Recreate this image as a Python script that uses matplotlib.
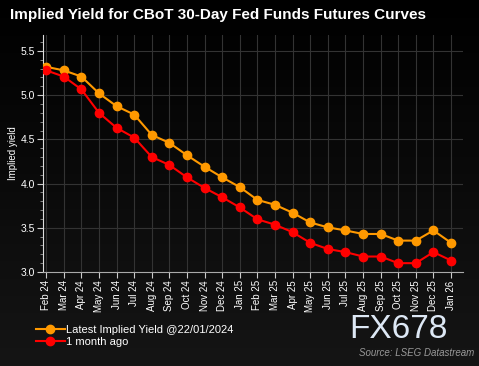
import matplotlib
matplotlib.use("Agg")
import matplotlib.pyplot as plt
import numpy as np

plt.rcParams["font.family"] = ["Liberation Sans", "DejaVu Sans"]

months = ["Feb 24", "Mar 24", "Apr 24", "May 24", "Jun 24", "Jul 24", "Aug 24", "Sep 24",
          "Oct 24", "Nov 24", "Dec 24", "Jan 25", "Feb 25", "Mar 25", "Apr 25", "May 25",
          "Jun 25", "Jul 25", "Aug 25", "Sep 25", "Oct 25", "Nov 25", "Dec 25", "Jan 26"]
latest = [5.32, 5.28, 5.21, 5.02, 4.875, 4.78, 4.55, 4.46, 4.32, 4.19, 4.07, 3.96,
          3.815, 3.76, 3.67, 3.56, 3.505, 3.47, 3.43, 3.43, 3.355, 3.355, 3.47, 3.33]
month_ago = [5.28, 5.21, 5.065, 4.80, 4.63, 4.52, 4.30, 4.21, 4.07, 3.95, 3.845, 3.73,
             3.596, 3.535, 3.45, 3.33, 3.26, 3.225, 3.175, 3.175, 3.10, 3.10, 3.225, 3.13]

fig = plt.figure(figsize=(4.79, 3.66), dpi=100)

# gradient background, black at top to dark grey at bottom
bg = fig.add_axes([0, 0, 1, 1], zorder=-10)
grad = np.linspace(0.0, 1.0, 256).reshape(-1, 1)
bg.imshow(grad, aspect="auto", cmap=matplotlib.colors.LinearSegmentedColormap.from_list(
    "bg", ["#000000", "#151515"]), extent=[0, 1, 0, 1])
bg.axis("off")

ax = fig.add_axes([43 / 479, 1 - 272 / 366, (463 - 43) / 479, (272 - 35) / 366])
ax.set_facecolor("none")

x = np.arange(len(months))
l1, = ax.plot(x, latest, color="#ff9900", marker="o", markersize=6, linewidth=1.5, zorder=3)
l2, = ax.plot(x, month_ago, color="#ff0000", marker="o", markersize=6, linewidth=1.5, zorder=3)

ax.set_xlim(-0.18, len(months) - 1 + 0.68)
ax.set_ylim(3.0, 5.68)
ax.set_xticks(x)
ax.set_xticklabels(months, rotation=90, fontsize=7)
ax.set_yticks([3.0, 3.5, 4.0, 4.5, 5.0, 5.5])
ax.set_yticklabels(["3.0", "3.5", "4.0", "4.5", "5.0", "5.5"], fontsize=7.5)
ax.set_yticks(np.arange(3.0, 5.65, 0.1), minor=True)
ax.tick_params(axis="both", colors="#cccccc", labelcolor="white", length=4, pad=2)
ax.tick_params(axis="y", which="minor", colors="#999999", length=2)
ax.grid(True, color="#333333", linewidth=0.8)
for s in ["top", "right"]:
    ax.spines[s].set_visible(False)
ax.spines["left"].set_color("#dddddd")
ax.spines["bottom"].set_color("#aaaaaa")
ax.set_ylabel("Implied yield", color="white", fontsize=7, labelpad=2)

fig.text(10 / 479, 1 - 15 / 366, "Implied Yield for CBoT 30-Day Fed Funds Futures Curves",
         color="white", fontsize=11, fontweight="bold", va="center")

fig.legend([l1, l2], ["Latest Implied Yield @22/01/2024", "1 month ago"],
           loc="upper left", bbox_to_anchor=(36 / 479, 1 - 325 / 366), frameon=False,
           fontsize=8, labelcolor="white", handlelength=2.6, handletextpad=0.1,
           labelspacing=0.15, borderaxespad=0, borderpad=0)

fig.text(448 / 479, 1 - 330 / 366, "FX678", color="#dde8f5", fontsize=24,
         ha="right", va="center")
fig.text(474 / 479, 1 - 353 / 366, "Source: LSEG Datastream", color="#999999",
         fontsize=7, style="italic", ha="right", va="center")

fig.savefig("out.png", dpi=100)
